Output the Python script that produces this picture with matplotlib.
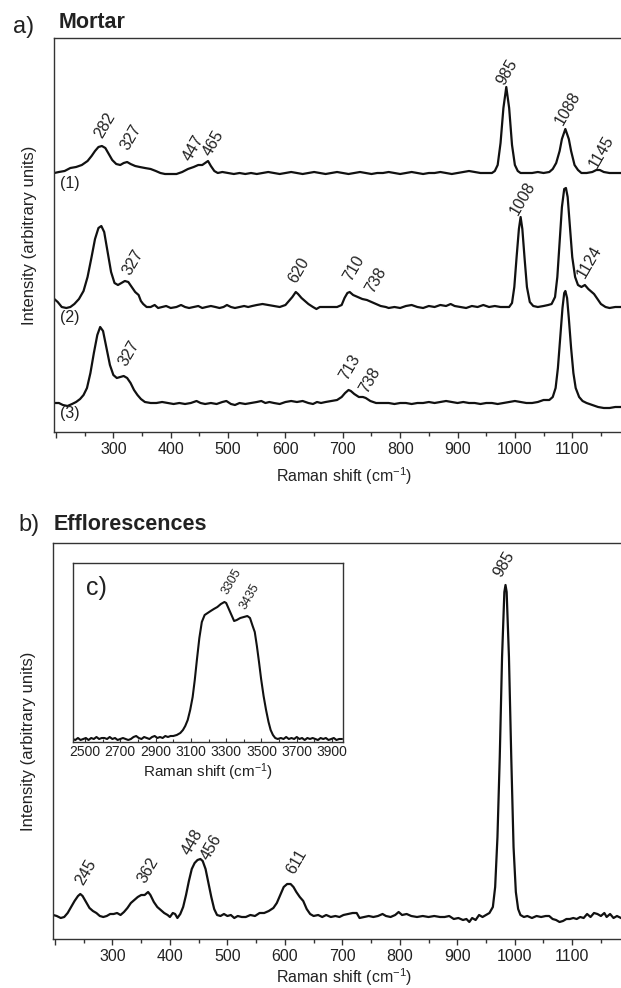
import numpy as np
import matplotlib
matplotlib.use("Agg")
import matplotlib.pyplot as plt
from matplotlib.ticker import MultipleLocator, FixedLocator, FuncFormatter

plt.rcParams['font.family'] = ['Liberation Sans', 'DejaVu Sans']
plt.rcParams['mathtext.default'] = 'regular'

# ---- Mortar spectra: (Raman shift, intensity above own baseline) ----
mortar_1 = [(197, 0), (205, 1), (215, 2), (225, 5), (235, 6), (245, 8), (255, 12), (262, 17),
            (268, 22), (274, 26), (280, 27), (286, 25), (292, 19), (298, 13), (305, 9), (312, 8),
            (318, 10), (324, 11), (330, 9), (338, 7), (346, 6), (355, 5), (365, 4), (374, 2),
            (382, 0), (390, -1), (400, -1), (410, -1), (420, 1), (430, 4), (440, 6), (448, 8),
            (455, 8), (460, 10), (465, 12), (470, 7), (476, 2), (482, 0), (490, 1), (500, 0),
            (510, -1), (520, 0), (530, -1), (540, 0), (550, -1), (560, 0), (570, 1), (580, 0),
            (590, -1), (600, 0), (610, 1), (620, 0), (630, -1), (640, 0), (650, 1), (660, 0),
            (670, -1), (680, 0), (690, 1), (700, 0), (710, -1), (720, 0), (730, 1), (740, 0),
            (750, -1), (760, 0), (770, 0), (780, 1), (790, 0), (800, -1), (810, 0), (820, 1),
            (830, 0), (840, -1), (850, 0), (860, 0), (870, 1), (880, 0), (890, -1), (900, 0),
            (910, 1), (920, 2), (930, 1), (940, 0), (950, 0), (960, 0), (965, 2), (970, 8),
            (975, 30), (980, 65), (985, 86), (990, 65), (995, 28), (1000, 8), (1005, 2),
            (1010, 0), (1020, 0), (1030, 0), (1040, 1), (1050, 0), (1060, 1), (1066, 4),
            (1072, 10), (1078, 22), (1082, 34), (1088, 44), (1094, 34), (1098, 22), (1104, 8),
            (1110, 3), (1116, 0), (1125, 0), (1135, 1), (1142, 3), (1148, 3), (1155, 1),
            (1165, 0), (1175, 0), (1185, 0)]

mortar_2 = [(197, 8), (203, 5), (210, 0), (218, -1), (225, 0), (232, 3), (240, 8), (248, 16),
            (255, 30), (262, 50), (268, 68), (274, 79), (279, 81), (284, 75), (290, 55),
            (296, 35), (302, 24), (308, 22), (314, 24), (320, 26), (326, 25), (332, 20),
            (338, 15), (344, 12), (348, 6), (352, 3), (358, 0), (365, 0), (372, 2), (378, -1),
            (385, 0), (392, 1), (400, -1), (410, 0), (418, 2), (425, 0), (432, -1), (440, 0),
            (448, 1), (455, -1), (462, 0), (470, 1), (478, 0), (485, -1), (492, 0), (498, 2),
            (505, 0), (512, -1), (520, 0), (528, 1), (535, 0), (542, 1), (550, 2), (560, 3),
            (570, 2), (580, 1), (590, 0), (600, 2), (606, 6), (612, 10), (618, 15), (622, 13),
            (628, 9), (634, 6), (640, 3), (648, 0), (654, -2), (660, 0), (670, 0), (680, 0),
            (690, 0), (698, 2), (703, 9), (708, 14), (712, 15), (718, 12), (726, 10), (734, 8),
            (742, 7), (750, 5), (758, 3), (766, 1), (775, 0), (780, -1), (790, 0), (800, -1),
            (810, 1), (820, 2), (830, 0), (840, -1), (850, 1), (860, 0), (870, 2), (880, 1),
            (888, 3), (895, 1), (905, 0), (915, -1), (925, 1), (935, 0), (945, 2), (955, 0),
            (965, 1), (975, 0), (985, 0), (990, 0), (995, 4), (999, 20), (1003, 50),
            (1007, 78), (1010, 90), (1013, 78), (1017, 48), (1021, 20), (1026, 5), (1032, 1),
            (1040, 0), (1050, 1), (1058, 2), (1064, 3), (1070, 10), (1074, 30), (1078, 65),
            (1082, 100), (1086, 118), (1089, 119), (1092, 110), (1096, 80), (1100, 50),
            (1105, 30), (1110, 22), (1116, 20), (1122, 22), (1128, 18), (1134, 15), (1138, 13),
            (1144, 8), (1150, 3), (1158, 0), (1165, -1), (1175, 0), (1185, 0)]

mortar_3 = [(197, 0), (205, 0), (212, -2), (220, -3), (228, -1), (235, 1), (242, 4), (248, 8),
            (254, 15), (260, 30), (266, 50), (272, 68), (277, 76), (282, 72), (288, 55),
            (294, 38), (300, 28), (306, 25), (312, 26), (318, 27), (324, 25), (330, 20),
            (336, 13), (342, 8), (348, 4), (355, 1), (365, 0), (375, 0), (385, 1), (395, 0),
            (405, -1), (415, 0), (425, -1), (435, 0), (445, 2), (452, 0), (460, -1), (470, 0),
            (480, -1), (490, 1), (497, 2), (505, -1), (512, -2), (520, 0), (530, -1), (540, 0),
            (550, 1), (558, 2), (565, 0), (572, 1), (580, 0), (590, -1), (600, 1), (610, 2),
            (620, 1), (630, 2), (640, 0), (648, -1), (655, 1), (662, 0), (670, 1), (680, 2),
            (690, 3), (698, 6), (704, 10), (710, 13), (714, 12), (720, 9), (728, 6), (735, 6),
            (740, 5), (748, 2), (758, 0), (770, 0), (780, 0), (790, -1), (800, 0), (810, 0),
            (820, -1), (830, 0), (840, 0), (850, 1), (860, 0), (870, 1), (880, 2), (890, 1),
            (900, 0), (910, 1), (920, 0), (930, 0), (940, -1), (950, 0), (960, 0), (970, -1),
            (980, 0), (990, 1), (1000, 2), (1010, 1), (1020, 0), (1030, 0), (1040, 1),
            (1050, 3), (1060, 3), (1066, 6), (1071, 15), (1075, 35), (1079, 65), (1083, 95),
            (1086, 110), (1088, 112), (1091, 105), (1094, 85), (1098, 55), (1102, 30),
            (1106, 15), (1112, 6), (1118, 2), (1125, 0), (1135, -2), (1145, -4), (1155, -5),
            (1165, -5), (1175, -4), (1185, -4)]

mortar_offsets = [259, 125, 29]
mortar_names = ['(1)', '(2)', '(3)']

# peak labels: (text, x, y) for each mortar trace
mortar_peaks = [
    [('282', 285, 307), ('327', 331, 295), ('447', 440, 284), ('465', 475, 289),
     ('985', 986, 360), ('1088', 1092, 324), ('1145', 1151, 280)],
    [('327', 334, 170), ('620', 623, 162), ('710', 719, 164), ('738', 757, 152),
     ('1008', 1014, 234), ('1124', 1130, 170)],
    [('327', 327, 79), ('713', 712, 65), ('738', 747, 52)],
]

# ---- Efflorescence spectrum ----
efflo = [(197, 2), (203, 1), (210, -1), (216, 0), (222, 4), (228, 10), (234, 16), (240, 21),
         (244, 23), (248, 21), (254, 15), (260, 9), (266, 6), (272, 4), (278, 1), (284, 0),
         (290, 1), (296, 3), (302, 3), (308, 4), (314, 2), (320, 5), (326, 9), (332, 14),
         (338, 17), (344, 20), (350, 22), (356, 22), (362, 25), (366, 22), (372, 15),
         (378, 10), (384, 7), (390, 4), (396, 2), (400, 0), (405, 4), (409, 3), (413, -1),
         (418, 3), (423, 10), (428, 22), (433, 36), (438, 48), (443, 54), (448, 57),
         (453, 58), (457, 56), (462, 48), (467, 34), (472, 20), (477, 8), (482, 2), (488, 1),
         (494, 3), (500, 1), (506, 2), (512, -1), (518, 1), (525, 0), (532, 0), (540, 2),
         (548, 1), (556, 4), (564, 4), (572, 6), (580, 9), (586, 14), (592, 22), (598, 30),
         (604, 33), (610, 33), (615, 30), (620, 25), (626, 20), (632, 16), (638, 8),
         (644, 3), (650, 1), (658, 2), (665, 0), (672, 2), (680, 0), (688, 1), (695, 0),
         (702, 2), (710, 3), (718, 4), (725, 4), (730, -1), (738, 0), (746, 1), (754, 0),
         (762, 1), (770, 3), (776, 1), (784, 0), (792, 2), (798, 5), (804, 2), (812, 3),
         (820, 1), (830, 0), (840, 1), (850, 0), (860, 1), (870, 0), (878, 0), (886, 1),
         (894, -2), (902, -1), (910, -3), (916, -2), (921, -5), (926, -1), (932, -3),
         (938, 2), (944, 0), (950, 2), (956, 4), (962, 10), (966, 30), (970, 80), (974, 160),
         (978, 260), (982, 325), (984, 332), (986, 325), (990, 260), (994, 160), (998, 70),
         (1002, 25), (1006, 8), (1010, 2), (1016, 0), (1022, 1), (1030, -1), (1038, 1),
         (1046, 0), (1054, 1), (1060, 1), (1066, -2), (1072, -3), (1078, -5), (1084, -4),
         (1090, -2), (1096, -2), (1102, -1), (1108, -2), (1114, 0), (1120, -1), (1126, 3),
         (1132, 0), (1138, 4), (1144, 3), (1150, 1), (1156, 4), (1160, 0), (1166, 3),
         (1172, -1), (1178, 1), (1185, -1)]
efflo_offset = 22
efflo_peaks = [('245', 254, 67), ('362', 362, 69), ('448', 440, 97), ('456', 472, 92),
               ('611', 620, 77), ('985', 982, 375)]

# ---- OH-stretching region (inset) ----
oh_band = [(2430, 3), (2445, 2), (2460, 4), (2475, 2), (2490, 3), (2505, 4), (2520, 2),
           (2535, 4), (2550, 3), (2565, 5), (2580, 3), (2595, 4), (2610, 4), (2625, 3),
           (2640, 5), (2655, 3), (2670, 4), (2685, 2), (2700, 3), (2715, 4), (2730, 3),
           (2745, 2), (2760, 3), (2775, 5), (2790, 6), (2805, 4), (2820, 3), (2835, 5),
           (2850, 4), (2865, 3), (2880, 5), (2895, 6), (2910, 4), (2925, 5), (2940, 4),
           (2955, 6), (2970, 5), (2985, 6), (3000, 6), (3020, 7), (3040, 9), (3055, 12),
           (3068, 16), (3082, 22), (3096, 32), (3110, 45), (3122, 62), (3134, 82),
           (3148, 104), (3162, 120), (3178, 127), (3195, 129), (3212, 131), (3230, 133),
           (3250, 135), (3270, 138), (3290, 140), (3300, 139), (3315, 133), (3330, 127),
           (3345, 121), (3360, 122), (3380, 124), (3400, 125), (3420, 126), (3435, 124),
           (3450, 116), (3462, 110), (3474, 96), (3486, 80), (3498, 63), (3512, 46),
           (3526, 32), (3540, 20), (3552, 12), (3565, 7), (3578, 4), (3592, 3), (3610, 4),
           (3625, 3), (3640, 5), (3655, 3), (3670, 4), (3685, 3), (3700, 5), (3715, 3),
           (3730, 4), (3745, 2), (3760, 4), (3775, 3), (3790, 4), (3805, 3), (3820, 2),
           (3835, 4), (3850, 3), (3865, 4), (3880, 2), (3895, 3), (3910, 4), (3925, 2),
           (3940, 3), (3955, 3)]
oh_ticks = [2500, 2700, 2900, 3100, 3300, 3500, 3700, 3900]
oh_peaks = [('3305', 3334, 160), ('3435', 3436, 145)]

XLABEL = 'Raman shift (cm$^{-1}$)'
YLABEL = 'Intensity (arbitrary units)'

W, H = 621, 988
fig = plt.figure(figsize=(W / 100, H / 100), dpi=100)


def fig_rect(left, top, right, bottom):
    return [left / W, 1 - bottom / H, (right - left) / W, (bottom - top) / H]


def style_main(ax, ylim):
    ax.set_xlim(196.5, 1185)
    ax.set_ylim(*ylim)
    ax.set_yticks([])
    ax.spines['right'].set_visible(False)
    for s in ('left', 'top', 'bottom'):
        ax.spines[s].set_linewidth(1.0)
        ax.spines[s].set_color('#333333')
    ax.xaxis.set_major_locator(MultipleLocator(100))
    ax.xaxis.set_minor_locator(MultipleLocator(50))
    ax.xaxis.set_major_formatter(FuncFormatter(lambda v, p: '' if v < 250 else f'{v:.0f}'))
    ax.tick_params(axis='x', which='major', direction='out', length=4, width=1,
                   labelsize=11.5, pad=3, colors='#333333', labelcolor='#222222')
    ax.tick_params(axis='x', which='minor', direction='out', length=3, width=1,
                   colors='#333333')
    ax.set_xlabel(XLABEL, fontsize=11.5, color='#222222')
    ax.set_ylabel(YLABEL, fontsize=12, color='#222222', labelpad=12)


# ---- panel a ----
ax1 = fig.add_axes(fig_rect(54, 38, 621, 432))
style_main(ax1, (0, 394))
ax1.xaxis.set_label_coords(0.512, -0.085)
for spec, off, name, peaks in zip([mortar_1, mortar_2, mortar_3], mortar_offsets,
                                  mortar_names, mortar_peaks):
    xs = np.array([p[0] for p in spec], dtype=float)
    ys = np.array([p[1] for p in spec], dtype=float) + off
    ax1.plot(xs, ys, color='#111111', lw=1.6, solid_joinstyle='round')
    ax1.text(207, off - 10, name, fontsize=11.5, ha='left', va='center', color='#222222')
    for txt, tx, ty in peaks:
        ax1.text(tx, ty, txt, rotation=60, ha='center', va='center', fontsize=11.5,
                 color='#222222', rotation_mode='anchor')

fig.text(24 / W, 1 - 27 / H, 'a)', fontsize=17, ha='center', va='center', color='#222222')
fig.text(59 / W, 1 - 23 / H, 'Mortar', fontsize=15.5, fontweight='bold', ha='left',
         va='center', color='#222222')

# ---- panel b ----
ax2 = fig.add_axes(fig_rect(53, 543, 621, 939))
style_main(ax2, (0, 396))
ax2.xaxis.set_label_coords(0.512, -0.07)
xs = np.array([p[0] for p in efflo], dtype=float)
ys = np.array([p[1] for p in efflo], dtype=float) + efflo_offset
ax2.plot(xs, ys, color='#111111', lw=1.6, solid_joinstyle='round')
for txt, tx, ty in efflo_peaks:
    ax2.text(tx, ty, txt, rotation=60, ha='center', va='center', fontsize=11.5,
             color='#222222', rotation_mode='anchor')

fig.text(29 / W, 1 - 525 / H, 'b)', fontsize=17, ha='center', va='center', color='#222222')
fig.text(54 / W, 1 - 524 / H, 'Efflorescences', fontsize=15.5, fontweight='bold',
         ha='left', va='center', color='#222222')

# ---- inset c ----
ax3 = fig.add_axes(fig_rect(73, 563, 343, 742))
xs = np.array([p[0] for p in oh_band], dtype=float)
ys = np.array([p[1] for p in oh_band], dtype=float)
ax3.plot(xs, ys, color='#111111', lw=1.5, solid_joinstyle='round')
ax3.set_xlim(2432, 3962)
ax3.set_ylim(0, 179)
ax3.set_yticks([])
for s in ax3.spines.values():
    s.set_linewidth(1.0)
    s.set_color('#333333')
ax3.xaxis.set_major_locator(FixedLocator(oh_ticks))
ax3.xaxis.set_minor_locator(MultipleLocator(100))
ax3.tick_params(axis='x', which='major', direction='in', length=3, width=0.8,
                labelsize=10, pad=2, colors='#333333', labelcolor='#222222')
ax3.tick_params(axis='x', which='minor', direction='in', length=2, width=0.8,
                colors='#333333')
ax3.set_xlabel(XLABEL, fontsize=11, color='#222222', labelpad=2)
for txt, tx, ty in oh_peaks:
    ax3.text(tx, ty, txt, rotation=60, ha='center', va='center', fontsize=9,
             color='#222222', rotation_mode='anchor')
ax3.text(0.085, 0.86, 'c)', transform=ax3.transAxes, fontsize=18, ha='center',
         va='center', color='#222222')

fig.savefig('out.png', dpi=100)
